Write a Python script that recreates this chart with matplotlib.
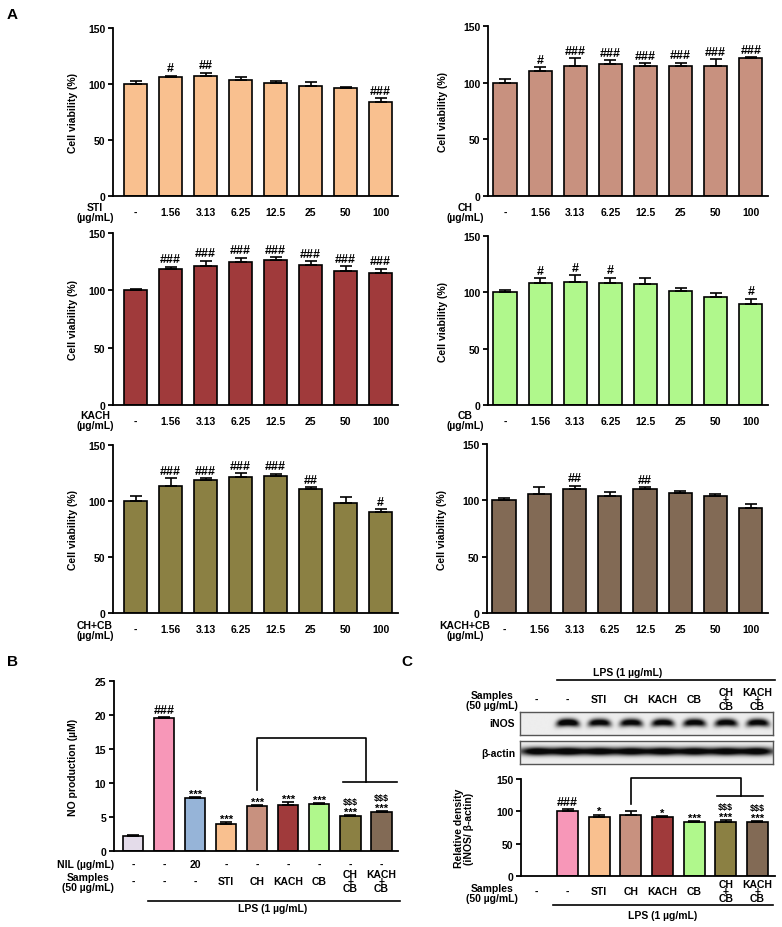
import matplotlib
matplotlib.use('Agg')
import matplotlib.pyplot as plt
import matplotlib.transforms as mtransforms
import numpy as np

plt.rcParams['font.family'] = ['Liberation Sans', 'DejaVu Sans']
plt.rcParams['font.weight'] = 'bold'
plt.rcParams['axes.labelweight'] = 'bold'

# ---------------- data ----------------
doses = ['-', '1.56', '3.13', '6.25', '12.5', '25', '50', '100']

sti_vals = [100, 106.5, 107.5, 104, 101, 98, 96, 84]
sti_errs = [3, 1, 2.5, 2.5, 1.5, 3.5, 1.5, 3.5]
sti_sig = ['', '#', '##', '', '', '', '', '###']

ch_vals = [100, 110, 115, 116.5, 114.5, 115, 114.5, 122]
ch_errs = [3, 3.5, 6.5, 3.5, 2.5, 2.5, 6, 0.5]
ch_sig = ['', '#', '###', '###', '###', '###', '###', '###']

kach_vals = [100, 119, 121, 125, 126.5, 122.5, 116.5, 115.5]
kach_errs = [1.5, 1.5, 5, 3.5, 2.5, 3, 4.5, 3.5]
kach_sig = ['', '###', '###', '###', '###', '###', '###', '###']

cb_vals = [100, 108.5, 109, 108.5, 107.5, 101.5, 95.5, 90]
cb_errs = [2, 4, 6, 4.5, 5, 2, 4, 4.5]
cb_sig = ['', '#', '#', '#', '', '', '', '#']

chcb_vals = [100, 113.5, 119, 121.5, 122, 110.5, 98.5, 90.5]
chcb_errs = [4.5, 7, 1.5, 3.5, 2.5, 2, 5, 2]
chcb_sig = ['', '###', '###', '###', '###', '##', '', '#']

kachcb_vals = [100, 105.5, 110, 103.5, 110.5, 106.5, 103.5, 93]
kachcb_errs = [2, 6, 3, 4, 1, 2, 2, 3.5]
kachcb_sig = ['', '', '##', '', '##', '', '', '']

# Panel B
no_groups = ['ctrl', 'LPS', 'NIL', 'STI', 'CH', 'KACH', 'CB', 'CH+CB', 'KACH+CB']
no_vals = [2.2, 19.5, 7.8, 4.0, 6.6, 6.8, 6.9, 5.2, 5.7]
no_errs = [0.1, 0.15, 0.15, 0.2, 0.15, 0.35, 0.1, 0.1, 0.2]
no_sig = ['', '###', '***', '***', '***', '***', '***', '$$$\n***', '$$$\n***']
nil_row = ['-', '-', '20', '-', '-', '-', '-', '-', '-']
b_samples_row = ['-', '-', '-', 'STI', 'CH', 'KACH', 'CB', 'CH\n+\nCB', 'KACH\n+\nCB']

# Panel C
c_samples_row = ['-', '-', 'STI', 'CH', 'KACH', 'CB', 'CH\n+\nCB', 'KACH\n+\nCB']
c_vals = [np.nan, 100, 91.5, 95, 91.5, 84, 83, 83]
c_errs = [0, 3, 3.5, 6, 1.5, 1, 3, 1.5]
c_sig = ['', '###', '*', '', '*', '***', '$$$\n***', '$$$\n***']
inos_band = [0.0, 1.0, 0.9, 0.9, 0.9, 0.9, 0.9, 0.9]
actin_band = [1.0, 1.0, 0.95, 0.95, 0.95, 0.95, 0.95, 1.0]

# colors
c_ctrl = '#E4DCEA'
c_lps = '#F797B8'
c_nil = '#96B4D8'
c_sti = '#F9C08F'
c_ch = '#C8917F'
c_kach = '#A03A3B'
c_cb = '#B0F88C'
c_chcb = '#8B8043'
c_kachcb = '#826A55'

# ---------------- figure ----------------
W, H = 782, 928
fig = plt.figure(figsize=(W / 100, H / 100), dpi=100)


def add_ax(x0, ytop, x1, ybot):
    return fig.add_axes([x0 / W, 1 - ybot / H, (x1 - x0) / W, (ybot - ytop) / H])


def fy(ypx):
    return 1 - ypx / H


def ftext(x, y, s, **kw):
    kw.setdefault('fontsize', 7.5)
    kw.setdefault('fontweight', 'bold')
    fig.text(x / W, fy(y), s, **kw)


def style(ax, ymax, yticks, ylabel, label_off_px, axw_px):
    ax.set_ylim(0, ymax)
    ax.set_yticks(yticks)
    for s in ['top', 'right']:
        ax.spines[s].set_visible(False)
    for s in ['left', 'bottom']:
        ax.spines[s].set_linewidth(1.3)
    ax.tick_params(axis='y', length=3.5, width=1.3, pad=2, labelsize=7.5)
    for lab in ax.get_yticklabels():
        lab.set_fontweight('bold')
    ax.set_ylabel(ylabel, fontsize=7.5, fontweight='bold')
    ax.yaxis.set_label_coords(-label_off_px / axw_px, 0.5)


SIZES = {'#': 9, '*': 8, '$': 6.5}


def bars(ax, vals, errs, sig, colors, width):
    x = np.arange(len(vals))
    ax.bar(x, vals, width=width, color=colors, edgecolor='black', linewidth=1.2, zorder=2)
    v = np.nan_to_num(np.array(vals, dtype=float))
    e = np.array(errs, dtype=float)
    m = v > 0
    ax.errorbar(x[m], v[m], yerr=[np.zeros(m.sum()), e[m]], fmt='none', ecolor='black',
                elinewidth=1.2, capsize=4, capthick=1.2, zorder=3)
    for xi, vi, ei, s in zip(x, v, e, sig):
        if not s:
            continue
        lines = s.split('\n')[::-1]
        off = 1.0
        for ln in lines:
            fs = SIZES[ln[0]]
            y_off = off - (2.2 if ln[0] == '*' else 0)
            ax.annotate(ln, (xi, vi + ei), xytext=(0, y_off), textcoords='offset points',
                        ha='center', va='bottom', fontsize=fs, fontweight='bold', zorder=4)
            off += 5.5 if ln[0] == '*' else 7


def viability(rect, xlim, vals, errs, sig, color, name, name_xy, label_off):
    x0, ytop, x1, ybot = rect
    ax = add_ax(*rect)
    bars(ax, vals, errs, sig, color, 0.66)
    ax.set_xlim(*xlim)
    ax.set_xticks(np.arange(len(doses)))
    ax.set_xticklabels(doses, fontsize=7.5, fontweight='bold')
    style(ax, 150, [0, 50, 100, 150], 'Cell viability (%)', label_off, x1 - x0)
    ax.tick_params(axis='x', length=0, pad=8)
    ftext(name_xy[0], name_xy[1], name, ha='center', va='center', linespacing=0.95)
    return ax


xl_left = (-0.643, 7.5)
xl_right = (-0.484, 7.49)
viability((113, 29, 398, 197), xl_left, sti_vals, sti_errs, sti_sig, c_sti,
          'STI\n(µg/mL)', (95, 213), 35)
viability((488, 27, 768, 197), xl_right, ch_vals, ch_errs, ch_sig, c_ch,
          'CH\n(µg/mL)', (465, 213), 40)
viability((113, 234, 398, 406), xl_left, kach_vals, kach_errs, kach_sig, c_kach,
          'KACH\n(µg/mL)', (95, 421), 35)
viability((488, 237, 768, 406), xl_right, cb_vals, cb_errs, cb_sig, c_cb,
          'CB\n(µg/mL)', (465, 421), 40)
viability((113, 446, 398, 614), xl_left, chcb_vals, chcb_errs, chcb_sig, c_chcb,
          'CH+CB\n(µg/mL)', (95, 631), 35)
viability((487, 445, 768, 614), xl_right, kachcb_vals, kachcb_errs, kachcb_sig, c_kachcb,
          'KACH+CB\n(µg/mL)', (465, 631), 40)

# ---------------- Panel B ----------------
axB = add_ax(114, 682, 398, 852)
bcolors = [c_ctrl, c_lps, c_nil, c_sti, c_ch, c_kach, c_cb, c_chcb, c_kachcb]
bars(axB, no_vals, no_errs, no_sig, bcolors, 0.65)
axB.set_xlim(-0.61, 8.53)
axB.set_xticks([])
style(axB, 25, [0, 5, 10, 15, 20, 25], 'NO production (µM)', 36, 284)
axB.tick_params(axis='x', length=0)
tB = mtransforms.blended_transform_factory(axB.transData, fig.transFigure)
for i, (a, b) in enumerate(zip(nil_row, b_samples_row)):
    axB.text(i, fy(865), a, transform=tB, ha='center', va='center', fontsize=7.5,
             fontweight='bold')
    axB.text(i, fy(882), b, transform=tB, ha='center', va='center', fontsize=7.5,
             fontweight='bold', linespacing=0.62)
ftext(114, 865, 'NIL (µg/mL)', ha='right', va='center')
ftext(114, 883, 'Samples\n(50 µg/mL)', ha='right', va='center', multialignment='center',
      linespacing=1.0)
axB.plot([0.5, 8.6], [fy(902), fy(902)], transform=tB, color='black', lw=1.2, clip_on=False)
axB.text(4.5, fy(909), 'LPS (1 µg/mL)', transform=tB, ha='center', va='center',
         fontsize=7.5, fontweight='bold')
# bracket
ref_b = no_groups.index('CH')
grp_b = [no_groups.index('CH+CB'), no_groups.index('KACH+CB')]
b_low = no_vals[ref_b] + 2.4
b_top = 16.6
b_grp = 10.1
mid_b = (grp_b[0] + grp_b[1]) / 2
axB.plot([ref_b, ref_b, mid_b, mid_b], [b_low, b_top, b_top, b_grp], color='black',
         lw=1.2, clip_on=False)
axB.plot([grp_b[0] - 0.24, grp_b[1] + 0.5], [b_grp, b_grp], color='black', lw=1.2,
         clip_on=False)

# ---------------- Panel C ----------------
axC = add_ax(521, 780, 775, 877)
ccolors = ['white', c_lps, c_sti, c_ch, c_kach, c_cb, c_chcb, c_kachcb]
bars(axC, c_vals, c_errs, c_sig, ccolors, 0.66)
axC.set_xlim(-0.475, 7.56)
axC.set_xticks([])
style(axC, 150, [0, 50, 100, 150], 'Relative density\n(iNOS/ β-actin)', 47, 254)
axC.tick_params(axis='x', length=0)
axC.yaxis.label.set_linespacing(1.0)
tC = mtransforms.blended_transform_factory(axC.transData, fig.transFigure)
for i, s in enumerate(c_samples_row):
    axC.text(i, fy(892), s, transform=tC, ha='center', va='center', fontsize=7.5,
             fontweight='bold', linespacing=0.62)
    axC.text(i, fy(700), s, transform=tC, ha='center', va='center', fontsize=7.5,
             fontweight='bold', linespacing=0.62)
ftext(518, 894, 'Samples\n(50 µg/mL)', ha='right', va='center', multialignment='center',
      linespacing=1.0)
ftext(518, 701, 'Samples\n(50 µg/mL)', ha='right', va='center', multialignment='center',
      linespacing=1.0)
axC.plot([0.55, 7.5], [fy(906), fy(906)], transform=tC, color='black', lw=1.2, clip_on=False)
axC.text(4.0, fy(916), 'LPS (1 µg/mL)', transform=tC, ha='center', va='center',
         fontsize=7.5, fontweight='bold')
axC.plot([0.65, 7.55], [fy(681), fy(681)], transform=tC, color='black', lw=1.2, clip_on=False)
axC.text(2.9, fy(673), 'LPS (1 µg/mL)', transform=tC, ha='center', va='center',
         fontsize=7.5, fontweight='bold')
# bracket C
ref_c = c_samples_row.index('CH')
grp_c = [6, 7]
mid_c = (grp_c[0] + grp_c[1]) / 2
c_low = c_vals[ref_c] + c_errs[ref_c] + 10
c_top = 151
c_grp = 124
axC.plot([ref_c, ref_c, mid_c, mid_c], [c_low, c_top, c_top, c_grp], color='black',
         lw=1.2, clip_on=False)
axC.plot([grp_c[0] - 0.27, grp_c[1] + 0.18], [c_grp, c_grp], color='black', lw=1.2,
         clip_on=False)

# western blot images
blot_xlim = (-0.506, 7.5)


def blot(rect, intens, sx, sy, curve, continuous=False):
    ax = add_ax(*rect)
    xs = np.linspace(blot_xlim[0], blot_xlim[1], 500)
    ys = np.linspace(0, 1, 60)
    X, Y = np.meshgrid(xs, ys)
    img = np.zeros_like(X)
    for i, a in enumerate(intens):
        dx = X - i
        yc = 0.55 + curve * dx ** 2
        if continuous:
            horiz = np.exp(-(dx / sx) ** 2)
        else:
            horiz = np.exp(-np.abs(dx / sx) ** 4)
        img += a * horiz * np.exp(-((Y - yc) / sy) ** 2)
    img = np.clip(img * 1.3, 0, 1)
    shade = 0.93 - 0.9 * img
    ax.imshow(shade, cmap='gray', vmin=0, vmax=1, aspect='auto', origin='lower',
              extent=(blot_xlim[0], blot_xlim[1], 0, 1), interpolation='bilinear')
    ax.set_xlim(*blot_xlim)
    ax.set_ylim(0, 1)
    ax.set_xticks([])
    ax.set_yticks([])
    for s in ax.spines.values():
        s.set_color('#555555')
        s.set_linewidth(1.0)
    return ax


blot((520, 713, 773, 736), inos_band, 0.36, 0.17, -0.5)
blot((520, 742, 773, 765), actin_band, 0.55, 0.18, 0.0, continuous=True)
ftext(515, 724, 'iNOS', ha='right', va='center')
ftext(515, 754, 'β-actin', ha='right', va='center')

# panel letters
ftext(12, 15, 'A', fontsize=11, ha='center', va='center')
ftext(12, 662, 'B', fontsize=11, ha='center', va='center')
ftext(407, 662, 'C', fontsize=11, ha='center', va='center')

fig.savefig('out.png', dpi=100)
